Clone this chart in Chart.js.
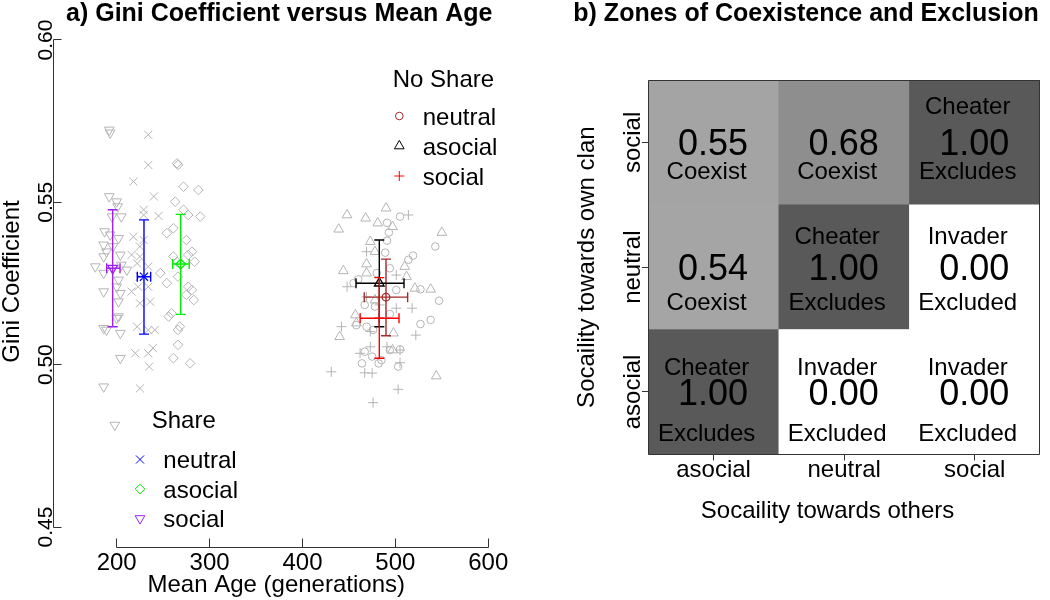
<!DOCTYPE html>
<html>
<head>
<meta charset="utf-8">
<script src="https://cdn.jsdelivr.net/npm/chart.js@4.4.1/dist/chart.umd.min.js"></script>
<style>
  html, body { margin: 0; padding: 0; background: #fff; }
  #wrap { position: relative; width: 1050px; height: 600px; }
  canvas { position: absolute; top: 0; }
  #giniAge { left: 0; }
  #zones { left: 525px; }
</style>
</head>
<body>
<div id="wrap">
  <canvas id="giniAge" width="525" height="600"></canvas>
  <canvas id="zones" width="525" height="600"></canvas>
</div>
<script>
// ---------- panel a: Gini coefficient vs mean age ----------
var ageTicks = [200, 300, 400, 500, 600];
var giniTicks = [0.45, 0.50, 0.55, 0.60];
var strategies = ['neutral', 'asocial', 'social'];

// single runs, [mean age, gini]
var shareNeutralRuns = [[234,0.5708],[234,0.5615],[218,0.5564],[240,0.5518],[229,0.5477],[245,0.5458],[229,0.5461],[218,0.5394],[229,0.5384],[225,0.5364],[216,0.5338],[225,0.5333],[222,0.5312],[234,0.5302],[225,0.5271],[216,0.5225],[223,0.5240],[234,0.5240],[236,0.5194],[225,0.5189],[222,0.5117],[234,0.5107],[241,0.5107],[220,0.5035],[234,0.5035],[239,0.5051],[235,0.4994],[225,0.4927]];
var shareAsocialRuns = [[265,0.5620],[266,0.5615],[272,0.5548],[288,0.5538],[263,0.5502],[272,0.5477],[277,0.5461],[290,0.5456],[261,0.5420],[254,0.5405],[275,0.5384],[281,0.5348],[261,0.5333],[277,0.5338],[265,0.5317],[284,0.5317],[247,0.5282],[254,0.5251],[266,0.5271],[277,0.5240],[281,0.5230],[275,0.5215],[283,0.5199],[259,0.5158],[256,0.5148],[268,0.5117],[266,0.5107],[266,0.5061],[261,0.5020],[279,0.5004]];
var shareSocialRuns = [[192,0.5723],[193,0.5714],[192,0.5518],[200,0.5502],[201,0.5487],[205,0.5456],[195,0.5456],[187,0.5410],[193,0.5400],[202,0.5389],[186,0.5369],[196,0.5364],[189,0.5348],[204,0.5338],[186,0.5333],[177,0.5302],[211,0.5292],[205,0.5307],[186,0.5282],[202,0.5261],[186,0.5225],[200,0.5240],[204,0.5220],[202,0.5194],[202,0.5148],[200,0.5143],[186,0.5112],[204,0.5097],[189,0.5107],[204,0.5020],[186,0.4932],[198,0.4814]];
var noShareNeutralRuns = [[505,0.5456],[491,0.5437],[493,0.5407],[491,0.5382],[489,0.5345],[543,0.5364],[519,0.5336],[514,0.5323],[494,0.5297],[480,0.5282],[460,0.5263],[455,0.5251],[501,0.5230],[527,0.5232],[547,0.5197],[467,0.5184],[478,0.5179],[494,0.5156],[538,0.5138],[527,0.5125],[458,0.5122],[469,0.5117],[476,0.5107],[475,0.5025],[485,0.5014],[467,0.5040],[464,0.5004],[482,0.5004],[494,0.5045],[503,0.4994],[505,0.5047]];
var noShareAsocialRuns = [[448,0.5461],[468,0.5451],[490,0.5482],[481,0.5436],[497,0.5425],[439,0.5417],[550,0.5407],[473,0.5379],[478,0.5348],[444,0.5289],[469,0.5310],[510,0.5302],[512,0.5271],[469,0.5282],[521,0.5235],[538,0.5232],[457,0.5153],[458,0.5128],[440,0.5086],[498,0.5097],[497,0.5045],[544,0.4965],[478,0.5199]];
var noShareSocialRuns = [[514,0.5461],[469,0.5348],[501,0.5276],[448,0.5240],[469,0.5209],[501,0.5174],[518,0.5174],[483,0.5184],[442,0.5117],[473,0.5102],[522,0.5091],[505,0.5045],[473,0.5055],[462,0.5035],[491,0.5055],[431,0.4978],[467,0.4975],[475,0.4974],[505,0.5006],[503,0.4924],[476,0.4883]];

// group means and spread, ordered like strategies
var shareAgeMean = [229.4, 268.9, 195.7];
var shareAgeLo = [222.2, 260.3, 189.2];
var shareAgeHi = [236.6, 278.1, 203.6];
var shareGiniMean = [0.5271, 0.5310, 0.5297];
var shareGiniLo = [0.5094, 0.5155, 0.5117];
var shareGiniHi = [0.5446, 0.5463, 0.5477];
var noShareAgeMean = [489.9, 482.7, 482.7];
var noShareAgeLo = [466.5, 457.6, 462.1];
var noShareAgeHi = [513.2, 509.3, 503.9];
var noShareGiniMean = [0.5208, 0.5251, 0.5143];
var noShareGiniLo = [0.5089, 0.5117, 0.5020];
var noShareGiniHi = [0.5325, 0.5384, 0.5268];

// ---------- panel b: zones ----------
var othersLevels = ['asocial', 'neutral', 'social'];
var clanLevels = ['asocial', 'neutral', 'social'];
// rows = sociality towards own clan, cols = towards others
var coexistence = [
    [1.00, 0.00, 0.00],
    [0.54, 1.00, 0.00],
    [0.55, 0.68, 1.00]
];
var roles = [
    ['Cheater', 'Invader', 'Invader'],
    ['', 'Cheater', 'Invader'],
    ['', '', 'Cheater']
];
var outcomes = [
    ['Excludes', 'Excluded', 'Excluded'],
    ['Coexist', 'Excludes', 'Excluded'],
    ['Coexist', 'Coexist', 'Excludes']
];

var FONT = '"Liberation Sans", Arial, Helvetica, sans-serif';
var GRAY = '#b4b4b4';

var shareStyle = {
    neutral: { pointStyle: 'crossRot', radius: 5.7, rotation: 0, color: '#0000ff' },
    asocial: { pointStyle: 'rectRot', radius: 4.8, rotation: 0, color: '#00ee00' },
    social: { pointStyle: 'triangle', radius: 5.6, rotation: 180, color: '#a020f0' }
};
var noShareStyle = {
    neutral: { pointStyle: 'circle', radius: 3.8, rotation: 0, color: '#a52a2a' },
    asocial: { pointStyle: 'triangle', radius: 5.6, rotation: 0, color: '#000000' },
    social: { pointStyle: 'cross', radius: 5, rotation: 0, color: '#ff0000' }
};

function runs(arr, st) {
    return {
        data: arr.map(function (p) { return { x: p[0], y: p[1] }; }),
        pointStyle: st.pointStyle,
        pointRadius: st.radius,
        rotation: st.rotation,
        borderColor: GRAY,
        backgroundColor: 'rgba(0,0,0,0)',
        borderWidth: 1
    };
}

function summary(i, st, am, alo, ahi, gm, glo, ghi) {
    return {
        data: [{ x: am[i], y: gm[i], xLo: alo[i], xHi: ahi[i], yLo: glo[i], yHi: ghi[i] }],
        errorBars: true,
        pointStyle: st.pointStyle,
        pointRadius: st.radius,
        rotation: st.rotation,
        borderColor: st.color,
        backgroundColor: 'rgba(0,0,0,0)',
        borderWidth: 1.3
    };
}

function text(ctx, s, x, y, font, align, angle) {
    ctx.save();
    ctx.translate(x, y);
    if (angle) ctx.rotate(angle);
    ctx.font = font;
    ctx.textAlign = align || 'center';
    ctx.textBaseline = 'alphabetic';
    ctx.fillStyle = '#000';
    ctx.fillText(s, 0, 0);
    ctx.restore();
}

function symbol(ctx, st, x, y) {
    ctx.save();
    ctx.strokeStyle = st.color;
    ctx.fillStyle = 'rgba(0,0,0,0)';
    ctx.lineWidth = 1;
    Chart.helpers.drawPoint(ctx, { pointStyle: st.pointStyle, radius: st.radius, rotation: st.rotation, borderWidth: 1 }, x, y);
    ctx.restore();
}

var giniDecor = {
    id: 'giniDecor',
    afterDatasetsDraw: function (chart) {
        var ctx = chart.ctx, x = chart.scales.x, y = chart.scales.y;
        var cap = 5;
        chart.data.datasets.forEach(function (ds) {
            if (!ds.errorBars) return;
            ds.data.forEach(function (p) {
                var px = x.getPixelForValue(p.x), py = y.getPixelForValue(p.y);
                var x1 = x.getPixelForValue(p.xLo), x2 = x.getPixelForValue(p.xHi);
                var y1 = y.getPixelForValue(p.yLo), y2 = y.getPixelForValue(p.yHi);
                ctx.save();
                ctx.strokeStyle = ds.borderColor;
                ctx.lineWidth = 1.4;
                ctx.beginPath();
                ctx.moveTo(px, y1); ctx.lineTo(px, y2);
                ctx.moveTo(px - cap, y1); ctx.lineTo(px + cap, y1);
                ctx.moveTo(px - cap, y2); ctx.lineTo(px + cap, y2);
                ctx.moveTo(x1, py); ctx.lineTo(x2, py);
                ctx.moveTo(x1, py - cap); ctx.lineTo(x1, py + cap);
                ctx.moveTo(x2, py - cap); ctx.lineTo(x2, py + cap);
                ctx.stroke();
                ctx.restore();
            });
        });
    },
    afterDraw: function (chart) {
        var ctx = chart.ctx, a = chart.chartArea, x = chart.scales.x, y = chart.scales.y;
        var midX = (a.left + a.right) / 2, midY = (a.top + a.bottom) / 2;
        ctx.save();
        ctx.strokeStyle = '#333';
        ctx.lineWidth = 1;
        // x axis, ticks pointing in
        var yb = Math.round(a.bottom) + 0.5;
        var xs = ageTicks.map(function (v) { return Math.floor(x.getPixelForValue(v)) + 0.5; });
        ctx.beginPath();
        ctx.moveTo(xs[0], yb); ctx.lineTo(xs[xs.length - 1], yb);
        xs.forEach(function (p) { ctx.moveTo(p, yb); ctx.lineTo(p, yb - 9); });
        // y axis
        var xl = Math.floor(a.left) + 0.5;
        var ys = giniTicks.map(function (v) { return Math.floor(y.getPixelForValue(v)) + 0.5; });
        ctx.moveTo(xl, ys[0]); ctx.lineTo(xl, ys[ys.length - 1]);
        ys.forEach(function (p) { ctx.moveTo(xl, p); ctx.lineTo(xl + 8, p); });
        ctx.stroke();
        ctx.restore();

        ageTicks.forEach(function (v) { text(ctx, String(v), x.getPixelForValue(v), 569.5, '24px ' + FONT); });
        giniTicks.forEach(function (v) { text(ctx, v.toFixed(2), 51.5, y.getPixelForValue(v), '21px ' + FONT, 'center', -Math.PI / 2); });
        text(ctx, 'Mean Age (generations)', midX - 3, 591.5, '24px ' + FONT);
        text(ctx, 'Gini Coefficient', 19, midY - 2, '24px ' + FONT, 'center', -Math.PI / 2);
        text(ctx, 'a) Gini Coefficient versus Mean Age', midX, 21, 'bold 25px ' + FONT);

        // legends
        text(ctx, 'Share', 151.7, 427.5, '24px ' + FONT, 'left');
        [459.5, 489, 518.5].forEach(function (ry, i) {
            var st = shareStyle[strategies[i]];
            symbol(ctx, st, 140, ry);
            text(ctx, strategies[i], 163.3, ry + 8.5, '24px ' + FONT, 'left');
        });
        text(ctx, 'No Share', 392.7, 86.5, '24px ' + FONT, 'left');
        [116, 146, 176].forEach(function (ry, i) {
            var st = noShareStyle[strategies[i]];
            symbol(ctx, st, 399.3, ry);
            text(ctx, strategies[i], 422.7, ry + 8.5, '24px ' + FONT, 'left');
        });
    }
};

var datasetsA = [
    runs(shareNeutralRuns, shareStyle.neutral),
    runs(shareAsocialRuns, shareStyle.asocial),
    runs(shareSocialRuns, shareStyle.social),
    runs(noShareNeutralRuns, noShareStyle.neutral),
    runs(noShareAsocialRuns, noShareStyle.asocial),
    runs(noShareSocialRuns, noShareStyle.social)
];
strategies.forEach(function (s, i) {
    datasetsA.push(summary(i, shareStyle[s], shareAgeMean, shareAgeLo, shareAgeHi, shareGiniMean, shareGiniLo, shareGiniHi));
});
strategies.forEach(function (s, i) {
    datasetsA.push(summary(i, noShareStyle[s], noShareAgeMean, noShareAgeLo, noShareAgeHi, noShareGiniMean, noShareGiniLo, noShareGiniHi));
});

var giniChart = new Chart(document.getElementById('giniAge'), {
    type: 'scatter',
    data: { datasets: datasetsA },
    options: {
        responsive: false,
        animation: false,
        devicePixelRatio: 1,
        layout: { padding: { left: 53.5, right: 20, top: 20.5, bottom: 53.5 } },
        plugins: { legend: { display: false }, tooltip: { enabled: false } },
        scales: {
            x: { type: 'linear', min: 132, max: 618, display: false },
            y: { type: 'linear', min: 0.444, max: 0.606, display: false }
        }
    },
    plugins: [giniDecor]
});

// ---------- panel b chart ----------
function shade(v) {
    var g = Math.round(255 - 166 * v);
    return 'rgb(' + g + ',' + g + ',' + g + ')';
}

var zoneText = {
    id: 'zoneText',
    afterDraw: function (chart) {
        var ctx = chart.ctx, a = chart.chartArea, x = chart.scales.x, y = chart.scales.y;
        var cellH = Math.abs(y.getPixelForValue(1) - y.getPixelForValue(0));
        var topShift = [-0.201, -0.252, -0.294];
        var botShift = [0.322, 0.272, 0.223];
        clanLevels.forEach(function (clan, r) {
            var cy = y.getPixelForValue(r + 0.5);
            othersLevels.forEach(function (o, c) {
                var cx = x.getPixelForValue(c);
                text(ctx, coexistence[r][c].toFixed(2), cx - 0.5, cy + 13, '36px ' + FONT);
                if (roles[r][c]) text(ctx, roles[r][c], cx - 7, cy + topShift[r] * cellH + 8.6, '24px ' + FONT);
                text(ctx, outcomes[r][c], cx - 7, cy + botShift[r] * cellH + 8.6, '24px ' + FONT);
            });
        });
        ctx.save();
        ctx.strokeStyle = '#333';
        ctx.lineWidth = 1;
        var l = Math.floor(a.left) + 0.5, t = Math.floor(a.top) + 0.5;
        var rr = Math.floor(a.right) - 0.5, b = Math.floor(a.bottom) + 0.5;
        ctx.beginPath();
        ctx.rect(l, t, rr - l, b - t);
        othersLevels.forEach(function (o, c) {
            var px = Math.floor(x.getPixelForValue(c)) + 0.5;
            ctx.moveTo(px, b); ctx.lineTo(px, b + 6);
        });
        clanLevels.forEach(function (cl, r) {
            var py = Math.floor(y.getPixelForValue(r + 0.5)) + 0.5;
            ctx.moveTo(l, py); ctx.lineTo(l - 6.5, py);
        });
        ctx.stroke();
        ctx.restore();

        othersLevels.forEach(function (o, c) { text(ctx, o, x.getPixelForValue(c), 476.5, '24px ' + FONT); });
        clanLevels.forEach(function (cl, r) { text(ctx, cl, 115, y.getPixelForValue(r + 0.5), '24px ' + FONT, 'center', -Math.PI / 2); });
        text(ctx, 'Socaility towards others', 302.5, 518, '24px ' + FONT);
        text(ctx, 'Socaility towards own clan', 68.5, (a.top + a.bottom) / 2, '24px ' + FONT, 'center', -Math.PI / 2);
        text(ctx, 'b) Zones of Coexistence and Exclusion', 281, 21, 'bold 25px ' + FONT);
    }
};

var zoneChart = new Chart(document.getElementById('zones'), {
    type: 'bar',
    data: {
        labels: othersLevels,
        datasets: clanLevels.map(function (clan, r) {
            return {
                label: clan,
                data: othersLevels.map(function () { return 1; }),
                backgroundColor: coexistence[r].map(shade),
                borderWidth: 0,
                barPercentage: 1,
                categoryPercentage: 1
            };
        })
    },
    options: {
        responsive: false,
        animation: false,
        devicePixelRatio: 1,
        layout: { padding: { left: 123.3, right: 10, top: 80, bottom: 145.7 } },
        plugins: { legend: { display: false }, tooltip: { enabled: false } },
        scales: {
            x: { stacked: true, display: false },
            y: { stacked: true, display: false, min: 0, max: 3 }
        }
    },
    plugins: [zoneText]
});
</script>
</body>
</html>
